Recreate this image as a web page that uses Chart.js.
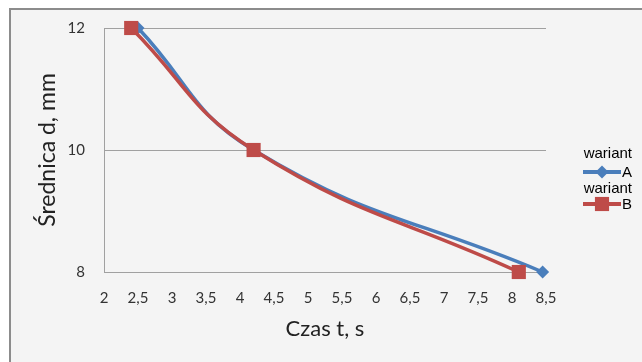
<!DOCTYPE html>
<html>
<head>
<meta charset="utf-8">
<script src="https://cdn.jsdelivr.net/npm/chart.js@4/dist/chart.umd.min.js"></script>
<style>
  html, body { margin: 0; padding: 0; background: #ffffff; }
  #wrap { width: 642px; height: 362px; position: relative; }
</style>
</head>
<body>
<div id="wrap"><canvas id="c" width="642" height="362"></canvas></div>
<script>
// ---- data ----
const seriesNames = ['wariant A', 'wariant B'];
const timeA = [2.5, 4.2, 8.45];
const diamA = [12, 10, 8];
const timeB = [2.4, 4.2, 8.1];
const diamB = [12, 10, 8];
const xTitle = 'Czas t, s';
const yTitle = 'Średnica d, mm';
const xMin = 2, xMax = 8.5, xStep = 0.5;
const yMin = 8, yMax = 12, yStep = 2;

const colA = '#4a7ebb';
const colB = '#be4b48';

const toPts = (xs, ys) => xs.map((x, i) => ({ x: x, y: ys[i] }));

const bgPlugin = {
  id: 'bg',
  beforeDraw(chart) {
    const ctx = chart.ctx;
    ctx.save();
    ctx.fillStyle = '#ffffff';
    ctx.fillRect(0, 0, chart.width, chart.height);
    ctx.fillStyle = '#f4f4f4';
    ctx.fillRect(9, 9, chart.width - 9, chart.height - 9);
    ctx.fillStyle = '#8c8c8c';
    ctx.fillRect(9, 8, chart.width - 9, 2);
    ctx.fillRect(9, 8, 2, chart.height - 8);
    ctx.restore();
  }
};

const legendPlugin = {
  id: 'sideLegend',
  afterDraw(chart) {
    const ctx = chart.ctx;
    ctx.save();
    const x0 = 583, lineLen = 38;
    const rows = [154, 189];
    chart.data.datasets.forEach((ds, i) => {
      const words = ds.label.split(' ');
      const last = words.pop();
      const first = words.join(' ');
      const y = rows[i];
      ctx.font = '15px "Liberation Sans", Arial, sans-serif';
      ctx.fillStyle = '#000000';
      ctx.textBaseline = 'middle';
      ctx.textAlign = 'right';
      ctx.fillText(first, 632, y);
      const ly = y + (i === 0 ? 18 : 15);
      ctx.strokeStyle = ds.borderColor;
      ctx.lineWidth = 4;
      ctx.beginPath();
      ctx.moveTo(x0, ly);
      ctx.lineTo(x0 + lineLen, ly);
      ctx.stroke();
      ctx.fillStyle = ds.backgroundColor;
      ctx.beginPath();
      const cx = x0 + lineLen / 2;
      if (ds.pointStyle === 'rect') {
        const s = ds.pointRadius * Math.SQRT1_2;
        ctx.rect(cx - s, ly - s, 2 * s, 2 * s);
      } else {
        const r = ds.pointRadius;
        ctx.moveTo(cx, ly - r); ctx.lineTo(cx + r, ly); ctx.lineTo(cx, ly + r); ctx.lineTo(cx - r, ly);
        ctx.closePath();
      }
      ctx.fill();
      ctx.fillStyle = '#000000';
      ctx.textAlign = 'left';
      ctx.fillText(last, x0 + lineLen + 1, ly + 1);
    });
    ctx.restore();
  }
};

new Chart(document.getElementById('c'), {
  type: 'scatter',
  data: {
    datasets: [
      {
        label: seriesNames[0],
        data: toPts(timeA, diamA),
        showLine: true,
        borderColor: colA,
        backgroundColor: colA,
        borderWidth: 3.5,
        pointStyle: 'rectRot',
        pointRadius: 6.5,
        pointHoverRadius: 6.5,
        pointBorderWidth: 0,
        tension: 0.45,
        clip: false,
        order: 1
      },
      {
        label: seriesNames[1],
        data: toPts(timeB, diamB),
        showLine: true,
        borderColor: colB,
        backgroundColor: colB,
        borderWidth: 3.5,
        pointStyle: 'rect',
        pointRadius: 10,
        pointHoverRadius: 10,
        pointBorderWidth: 0,
        tension: 0.45,
        clip: false,
        order: 0
      }
    ]
  },
  options: {
    responsive: false,
    animation: false,
    devicePixelRatio: 1,
    layout: { padding: { left: 0, right: 96, top: 28, bottom: 0 } },
    plugins: {
      legend: { display: false },
      tooltip: { enabled: false }
    },
    scales: {
      x: {
        type: 'linear',
        min: xMin, max: xMax,
        afterFit(scale) { scale.height = 90; },
        grid: { display: false, drawTicks: false },
        border: { display: false },
        ticks: {
          stepSize: xStep,
          padding: 17,
          color: '#333333',
          font: { family: 'Lato', size: 15 },
          maxRotation: 0,
          autoSkip: false,
          callback: v => String(v).replace('.', ',')
        },
        title: {
          display: true,
          text: xTitle,
          color: '#222222',
          font: { family: 'Lato', size: 22 },
          padding: { top: 0, bottom: 20 }
        }
      },
      y: {
        type: 'linear',
        min: yMin, max: yMax,
        afterFit(scale) { scale.width = 104; },
        grid: { color: '#a0a0a0', lineWidth: 1, drawTicks: false },
        border: { display: true, color: '#a0a0a0', width: 1 },
        ticks: {
          stepSize: yStep,
          padding: 19,
          color: '#333333',
          font: { family: 'Lato', size: 15 }
        },
        title: {
          display: true,
          text: yTitle,
          color: '#222222',
          font: { family: 'Lato', size: 23 },
          padding: { top: 34, bottom: 0 }
        }
      }
    }
  },
  plugins: [bgPlugin, legendPlugin]
});
</script>
</body>
</html>
